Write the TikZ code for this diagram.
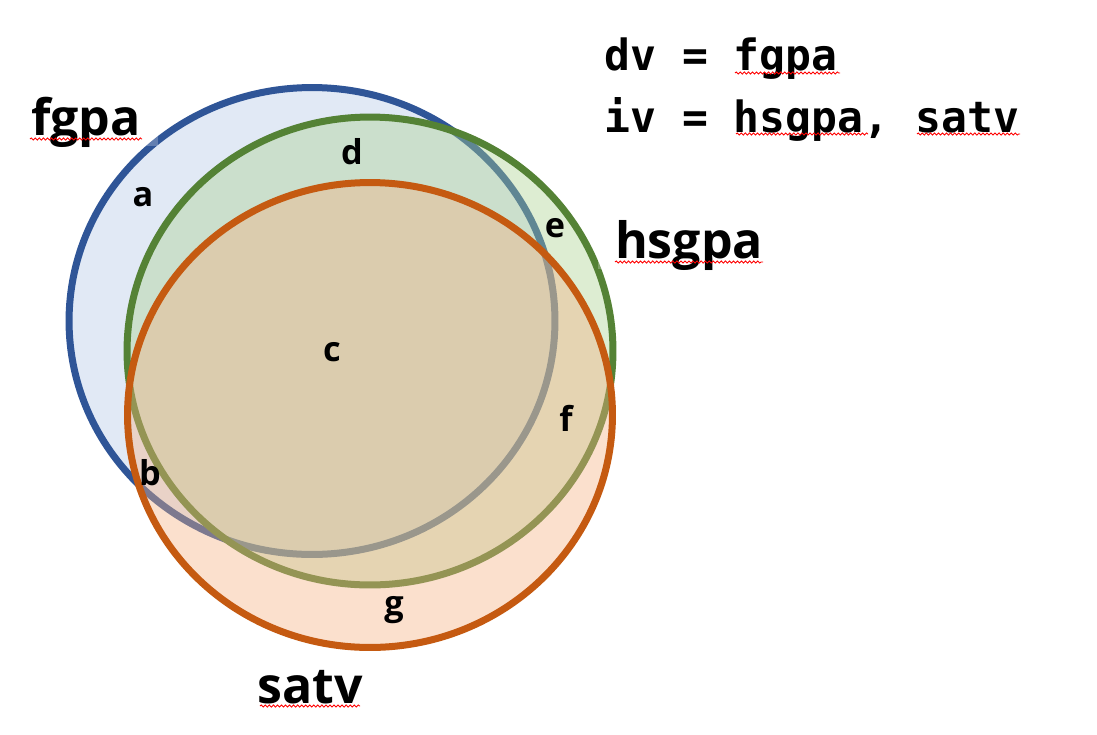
\documentclass[tikz,border=0pt]{standalone}
\usepackage{fontspec}
\setmainfont{Open Sans}
\newfontfamily\codefont{DejaVu Sans Mono}
\usetikzlibrary{decorations.pathmorphing}
\definecolor{fgpaline}{HTML}{2F5597}
\definecolor{fgpafill}{HTML}{B4C7E7}
\definecolor{hsgpaline}{HTML}{548235}
\definecolor{hsgpafill}{HTML}{A9D18E}
\definecolor{satvline}{HTML}{C55A11}
\definecolor{satvfill}{HTML}{F4B183}
\begin{document}
\begin{tikzpicture}[x = 0.02cm, y = -0.02cm,
        setcircle/.style = {line width = 0.14cm, fill opacity = 0.4},
        setname/.style = {font = \bfseries\fontsize{28.5}{34}\selectfont, fill = white, fill opacity = 0.25, text opacity = 1,
                text height = 1.35em, text depth = 0.4em, inner xsep = 0.35cm, inner ysep = 2pt, anchor = base},
        region/.style = {font = \bfseries\fontsize{19.5}{22}\selectfont, inner sep = 0pt},
        codeline/.style = {font = \codefont\bfseries\fontsize{24.5}{30}\selectfont, anchor = base west, inner sep = 0pt},
        spellmark/.style = {red, line width = 0.5pt, decorate, decoration = {snake, amplitude = 0.6pt, segment length = 2.3pt}}]
                \useasboundingbox (0,0) rectangle (1097,734);
                % the three sets
                \filldraw[setcircle, draw = fgpaline, fill = fgpafill] (312,321) ellipse (4.86cm and 4.67cm);
                \filldraw[setcircle, draw = hsgpaline, fill = hsgpafill] (370,351) ellipse (4.86cm and 4.68cm);
                \filldraw[setcircle, draw = satvline, fill = satvfill] (370,415) ellipse (4.85cm and 4.65cm);
                % set names
                \node[setname] (fgpa) at (86,135) {fgpa};
                \node[setname] (hsgpa) at (689,258) {hsgpa};
                \node[setname] (satv) at (310,703) {satv};
                % regions
                \node[region] (ra) at (143,197) {a};
                \node[region] (rb) at (150,473) {b};
                \node[region] (rc) at (332,352) {c};
                \node[region] (rd) at (352,152) {d};
                \node[region] (re) at (555,228) {e};
                \node[region] (rf) at (566,418) {f};
                \node[region] (rg) at (394,610) {g};
                % variables
                \node[codeline] (dv) at (604,70) {dv = fgpa};
                \node[codeline] (iv) at (604,132) {iv = hsgpa, satv};
                \draw[spellmark] (30,139) -- (142,139);
                \draw[spellmark] (735,73) -- (840,73);
                \draw[spellmark] (736,134) -- (868,134);
                \draw[spellmark] (917,134) -- (1020,134);
                \draw[spellmark] (615,262) -- (763,262);
                \draw[spellmark] (260,706) -- (360,706);
\end{tikzpicture}
\end{document}
